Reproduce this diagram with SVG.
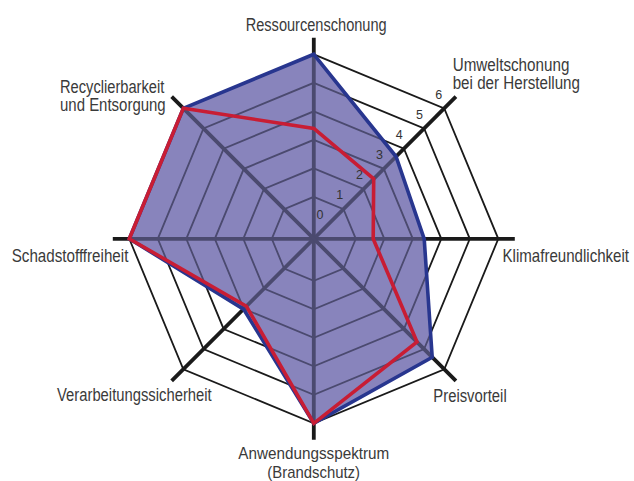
<svg xmlns="http://www.w3.org/2000/svg" xmlns:xlink="http://www.w3.org/1999/xlink" width="634" height="481" viewBox="0 0 634 481">
<style>
.ring{fill:none;stroke-width:1.8;stroke-linejoin:miter}
.spoke{fill:none;stroke-width:3.8;stroke-linecap:butt}
.lbl{font-family:"Liberation Sans",Arial,sans-serif;font-size:17.5px;fill:#3a3a3a}
.sm{font-size:17px}
.num{font-family:"Liberation Sans",Arial,sans-serif;font-size:12.5px;fill:#333;text-anchor:middle}
.blue{fill:none;stroke:#28368f;stroke-width:3.6;stroke-linejoin:miter}
.red{fill:none;stroke:#c81d34;stroke-width:3.6;stroke-linejoin:miter}
</style>
<defs>
<g id="grid">
<polygon class="ring" points="313.8,196.8 343.5,209.1 355.8,238.8 343.5,268.5 313.8,280.8 284.1,268.5 271.8,238.8 284.1,209.1"/>
<polygon class="ring" points="313.8,168.3 363.65,188.95 384.3,238.8 363.65,288.65 313.8,309.3 263.95,288.65 243.3,238.8 263.95,188.95"/>
<polygon class="ring" points="313.8,139.8 383.8,168.8 412.8,238.8 383.8,308.8 313.8,337.8 243.8,308.8 214.8,238.8 243.8,168.8"/>
<polygon class="ring" points="313.8,111.3 403.96,148.64 441.3,238.8 403.96,328.96 313.8,366.3 223.64,328.96 186.3,238.8 223.64,148.64"/>
<polygon class="ring" points="313.8,82.8 424.11,128.49 469.8,238.8 424.11,349.11 313.8,394.8 203.49,349.11 157.8,238.8 203.49,128.49"/>
<polygon class="ring" points="313.8,54.3 444.26,108.34 498.3,238.8 444.26,369.26 313.8,423.3 183.34,369.26 129.3,238.8 183.34,108.34"/>
<line class="spoke" x1="313.8" y1="37.8" x2="313.8" y2="439.8"/>
<line class="spoke" x1="112.8" y1="238.8" x2="514.8" y2="238.8"/>
<line class="spoke" x1="455.93" y1="96.67" x2="171.67" y2="380.93"/>
<line class="spoke" x1="171.67" y1="96.67" x2="455.93" y2="380.93"/>
</g>
<clipPath id="area">
<polygon points="313.8,54.3 396,156.5 424.2,238.8 432.2,357.2 313.8,423.3 243.5,309.1 129.3,238.8 183.34,108.34"/>
</clipPath>
</defs>

<g id="grid-outer"><use xlink:href="#grid" stroke="#1a1a1a"/></g>
<g id="series-fill">
<polygon fill="#8884bc" points="313.8,54.3 396,156.5 424.2,238.8 432.2,357.2 313.8,423.3 243.5,309.1 129.3,238.8 183.34,108.34"/>
</g>
<g id="grid-inner" clip-path="url(#area)"><use xlink:href="#grid" stroke="#4b4a6f"/></g>

<g id="scale">
<text class="num" x="320" y="218.6">0</text>
<text class="num" x="339.8" y="198.7">1</text>
<text class="num" x="359.6" y="178.8">2</text>
<text class="num" x="379.4" y="158.9">3</text>
<text class="num" x="399.2" y="139">4</text>
<text class="num" x="419.5" y="119.1">5</text>
<text class="num" x="438.8" y="99.2">6</text>
</g>

<g id="series">
<polygon class="blue" points="313.8,54.3 396,156.5 424.2,238.8 432.2,357.2 313.8,423.3 243.5,309.1 129.3,238.8 183.34,108.34"/>
<polygon class="red" points="313.8,128.4 373.7,178.9 373.2,238.8 417,342 313.8,423.3 246.4,306.2 129.3,238.8 183.34,108.34"/>
</g>

<g id="labels">
<text class="lbl" x="245.7" y="30.7" textLength="141" lengthAdjust="spacingAndGlyphs">Ressourcenschonung</text>
<text class="lbl" x="452.7" y="71" textLength="116.7" lengthAdjust="spacingAndGlyphs">Umweltschonung</text>
<text class="lbl" x="452.7" y="89" textLength="127.3" lengthAdjust="spacingAndGlyphs">bei der Herstellung</text>
<text class="lbl" x="60" y="92.7" textLength="104.3" lengthAdjust="spacingAndGlyphs">Recyclierbarkeit</text>
<text class="lbl" x="60" y="111.3" textLength="105.7" lengthAdjust="spacingAndGlyphs">und Entsorgung</text>
<text class="lbl" x="11.7" y="262" textLength="116.7" lengthAdjust="spacingAndGlyphs">Schadstofffreiheit</text>
<text class="lbl" transform="translate(502.5,262) scale(0.862,1)" x="0" y="0">Klimafreundlichkeit</text>
<text class="lbl" x="433.3" y="401.7" textLength="73.4" lengthAdjust="spacingAndGlyphs">Preisvorteil</text>
<text class="lbl" x="57" y="401" textLength="154.7" lengthAdjust="spacingAndGlyphs">Verarbeitungssicherheit</text>
<text class="lbl sm" x="238.3" y="458.5" textLength="151" lengthAdjust="spacingAndGlyphs">Anwendungsspektrum</text>
<text class="lbl sm" x="267.3" y="477.5" textLength="92.7" lengthAdjust="spacingAndGlyphs">(Brandschutz)</text>
</g>
</svg>
